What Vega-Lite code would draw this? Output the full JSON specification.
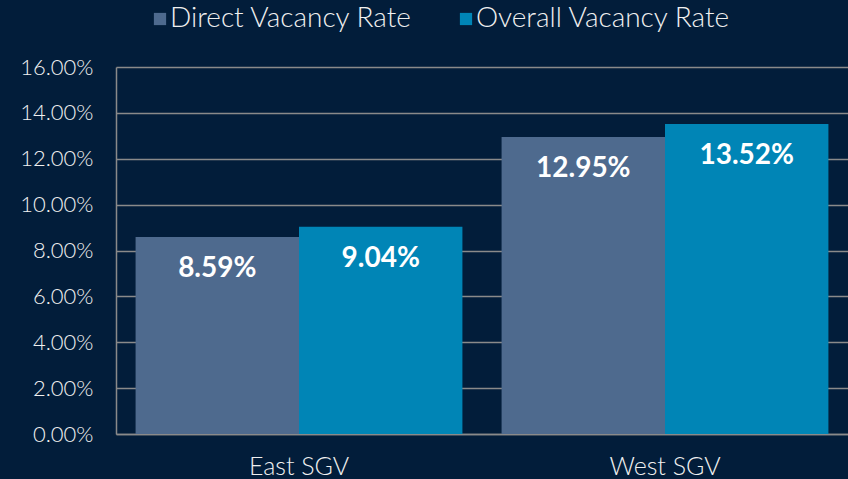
{
  "$schema": "https://vega.github.io/schema/vega-lite/v6.json",
  "width": 732,
  "height": 367,
  "autosize": {"type": "none"},
  "padding": {"left": 116, "top": 67, "right": 0, "bottom": 45},
  "background": "#021d3a",
  "config": {
    "view": {"stroke": null},
    "font": "Lato",
    "axis": {"labelColor": "#f0f0f0", "titleColor": "#f0f0f0", "labelFont": "Lato"}
  },
  "data": {
    "values": [
      {"region": "East SGV", "series": "Direct Vacancy Rate", "rate": 0.0859},
      {"region": "East SGV", "series": "Overall Vacancy Rate", "rate": 0.0904},
      {"region": "West SGV", "series": "Direct Vacancy Rate", "rate": 0.1295},
      {"region": "West SGV", "series": "Overall Vacancy Rate", "rate": 0.1352}
    ]
  },
  "encoding": {
    "x": {
      "field": "region", "type": "nominal", "title": null,
      "scale": {"paddingInner": 0.107, "paddingOuter": 0.0535},
      "axis": {"labelAngle": 0, "labelFontSize": 25, "labelPadding": 20, "ticks": false, "domainColor": "#8a8a8a", "domainWidth": 1.5, "labelColor": "#f0f0f0", "labelFontWeight": 300}
    },
    "xOffset": {"field": "series", "type": "nominal", "scale": {"paddingInner": 0, "paddingOuter": 0}},
    "y": {
      "field": "rate", "type": "quantitative", "title": null,
      "scale": {"domain": [0, 0.16], "nice": false},
      "axis": {"format": ".2%", "values": [0, 0.02, 0.04, 0.06, 0.08, 0.1, 0.12, 0.14, 0.16], "labelFontSize": 22, "labelPadding": 23, "labelFontWeight": 300, "ticks": false, "domainColor": "#8a8a8a", "domainWidth": 1.5, "gridColor": "#8a8a8a", "gridWidth": 1.5}
    }
  },
  "layer": [
    {
      "mark": {"type": "bar"},
      "encoding": {
        "color": {
          "field": "series", "type": "nominal",
          "scale": {"domain": ["Direct Vacancy Rate", "Overall Vacancy Rate"], "range": ["#4e6a8e", "#0085b6"]},
          "legend": {
            "title": null, "orient": "none", "direction": "horizontal",
            "legendX": 30, "legendY": -62,
            "symbolType": "square", "symbolSize": 150, "symbolStrokeWidth": 0,
            "labelFontSize": 28, "labelColor": "#f0f0f0", "labelFont": "Lato", "labelFontWeight": 300,
            "columnPadding": 39, "labelOffset": -4, "labelLimit": 400
          }
        }
      }
    },
    {
      "mark": {"type": "text", "baseline": "middle", "dy": 32, "fontSize": 28, "fontWeight": "bold", "color": "#ffffff", "font": "Lato"},
      "encoding": {
        "text": {"field": "rate", "type": "quantitative", "format": ".2%"}
      }
    }
  ]
}
